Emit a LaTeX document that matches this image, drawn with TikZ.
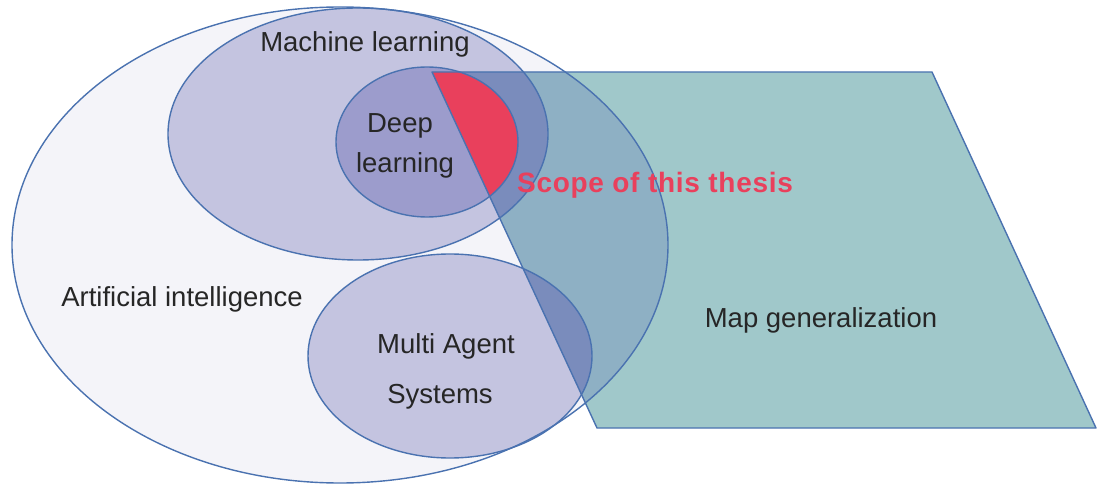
\documentclass[tikz,border=0pt]{standalone}
\usepackage{fontspec}
\setmainfont{Liberation Sans}
\newfontfamily\scopefont[LetterSpace=2.5]{Liberation Sans Bold}
\definecolor{edge}{HTML}{4A72B0}
\definecolor{aifill}{HTML}{F4F4F9}
\definecolor{mlfill}{HTML}{C4C4E0}
\definecolor{dlfill}{HTML}{9C9CCC}
\definecolor{parafill}{HTML}{A0C8CA}
\definecolor{paraai}{HTML}{8EB0C4}
\definecolor{parapurple}{HTML}{7A8CBC}
\definecolor{scopered}{HTML}{E9405C}
\begin{document}
\begin{tikzpicture}[x=1pt,y=-1pt,
  border/.style={draw=edge,line width=1.4pt,line join=round},
  lbl/.style={anchor=base,inner sep=0pt,font=\fontsize{27.5}{33}\selectfont,text=black!85}]
\useasboundingbox (0,0) rectangle (1098,486);
\def\AIpath{(340,245) ellipse [x radius=328,y radius=238]}
\def\MLpath{(358,134) ellipse [x radius=190,y radius=126]}
\def\DLpath{(427,142) ellipse [x radius=91,y radius=75]}
\def\MASpath{(450,356) ellipse [x radius=142,y radius=102]}
\def\Parapath{(432,72) -- (932,72) -- (1096,428) -- (597,428) -- cycle}
% base fills
\fill[aifill] \AIpath;
\fill[mlfill] \MLpath;
\fill[mlfill] \MASpath;
\fill[dlfill] \DLpath;
\fill[parafill] \Parapath;
\begin{scope}
  \clip \Parapath;
  \fill[paraai] \AIpath;
  \fill[parapurple] \MLpath;
  \fill[parapurple] \MASpath;
  \fill[scopered] \DLpath;
\end{scope}
% borders
\draw[border] \Parapath;
\draw[border] \AIpath;
\draw[border] \MLpath;
\draw[border] \MASpath;
\draw[border] \DLpath;
% labels
\node[lbl] (ml) at (365,52) {Machine learning};
\node[lbl] (deep) at (400,133) {Deep};
\node[lbl] (learn) at (405,173) {learning};
\node[lbl] (ai) at (182,307) {Artificial intelligence};
\node[lbl] (mas1) at (446,354) {Multi Agent};
\node[lbl] (mas2) at (440,403) {Systems};
\node[lbl] (map) at (821,328) {Map generalization};
\node[anchor=base,inner sep=0pt,font=\fontsize{28}{33}\scopefont,text=scopered] (scope) at (655,193) {Scope of this thesis};
\end{tikzpicture}
\end{document}
